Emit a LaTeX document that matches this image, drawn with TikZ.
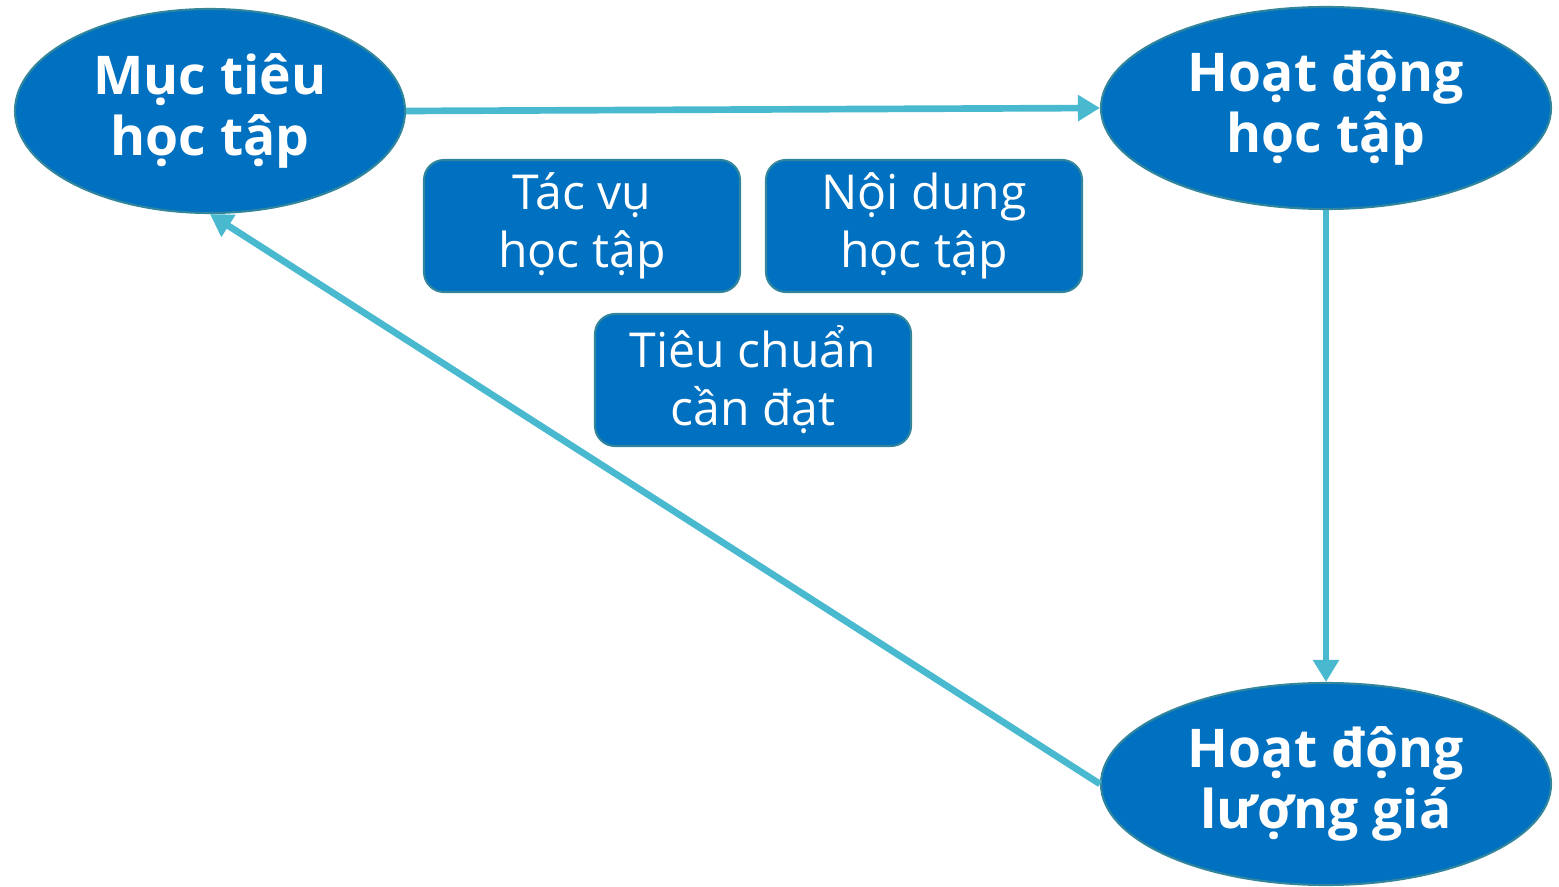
\documentclass[tikz,border=0pt]{standalone}
\usepackage{fontspec}
\setmainfont{Open Sans}
\usetikzlibrary{shapes.geometric,arrows.meta}
\definecolor{nodeblue}{RGB}{0,112,192}
\definecolor{rimteal}{RGB}{49,133,156}
\definecolor{arrowcyan}{RGB}{72,185,207}

\begin{document}
\begin{tikzpicture}[
    goal/.style={ellipse,fill=nodeblue,draw=rimteal,line width=0.6pt,text=white,
      minimum width=4.5cm,minimum height=2.02cm,inner sep=0pt,align=center,
      font=\fontsize{15.2}{17.6}\selectfont\bfseries},
    part/.style={rectangle,rounded corners=0.2cm,fill=nodeblue,draw=rimteal,line width=0.6pt,
      text=white,minimum width=3.16cm,minimum height=1.32cm,inner sep=0pt,align=center,
      font=\fontsize{13.7}{16.5}\selectfont},
    flow/.style={draw=arrowcyan,line width=1.9pt,-{Triangle[length=0.22cm,width=0.25cm]}}]
       \useasboundingbox (0,0) rectangle (15.59,8.86);
       % three stages
       \node[goal,minimum width=3.9cm,minimum height=2.04cm] (muctieu) at (2.10,7.75) {Mục tiêu\\học tập};
       \node[goal] (hoatdong) at (13.26,7.78) {Hoạt động\\học tập};
       \node[goal] (luonggia) at (13.26,1.02) {Hoạt động\\lượng giá};
       % inner parts
       \node[part] (tacvu)    at (5.82,6.60) {Tác vụ\\học tập};
       \node[part] (noidung)  at (9.24,6.60) {Nội dung\\học tập};
       \node[part] (tieuchuan) at (7.53,5.06) {Tiêu chuẩn\\cần đạt};
       % cycle
       \draw[flow] (muctieu.east) -- (hoatdong.west);
       \draw[flow] (hoatdong.south) -- (luonggia.north);
       \draw[flow] (luonggia.west) -- (muctieu.south);
\end{tikzpicture}
\end{document}
